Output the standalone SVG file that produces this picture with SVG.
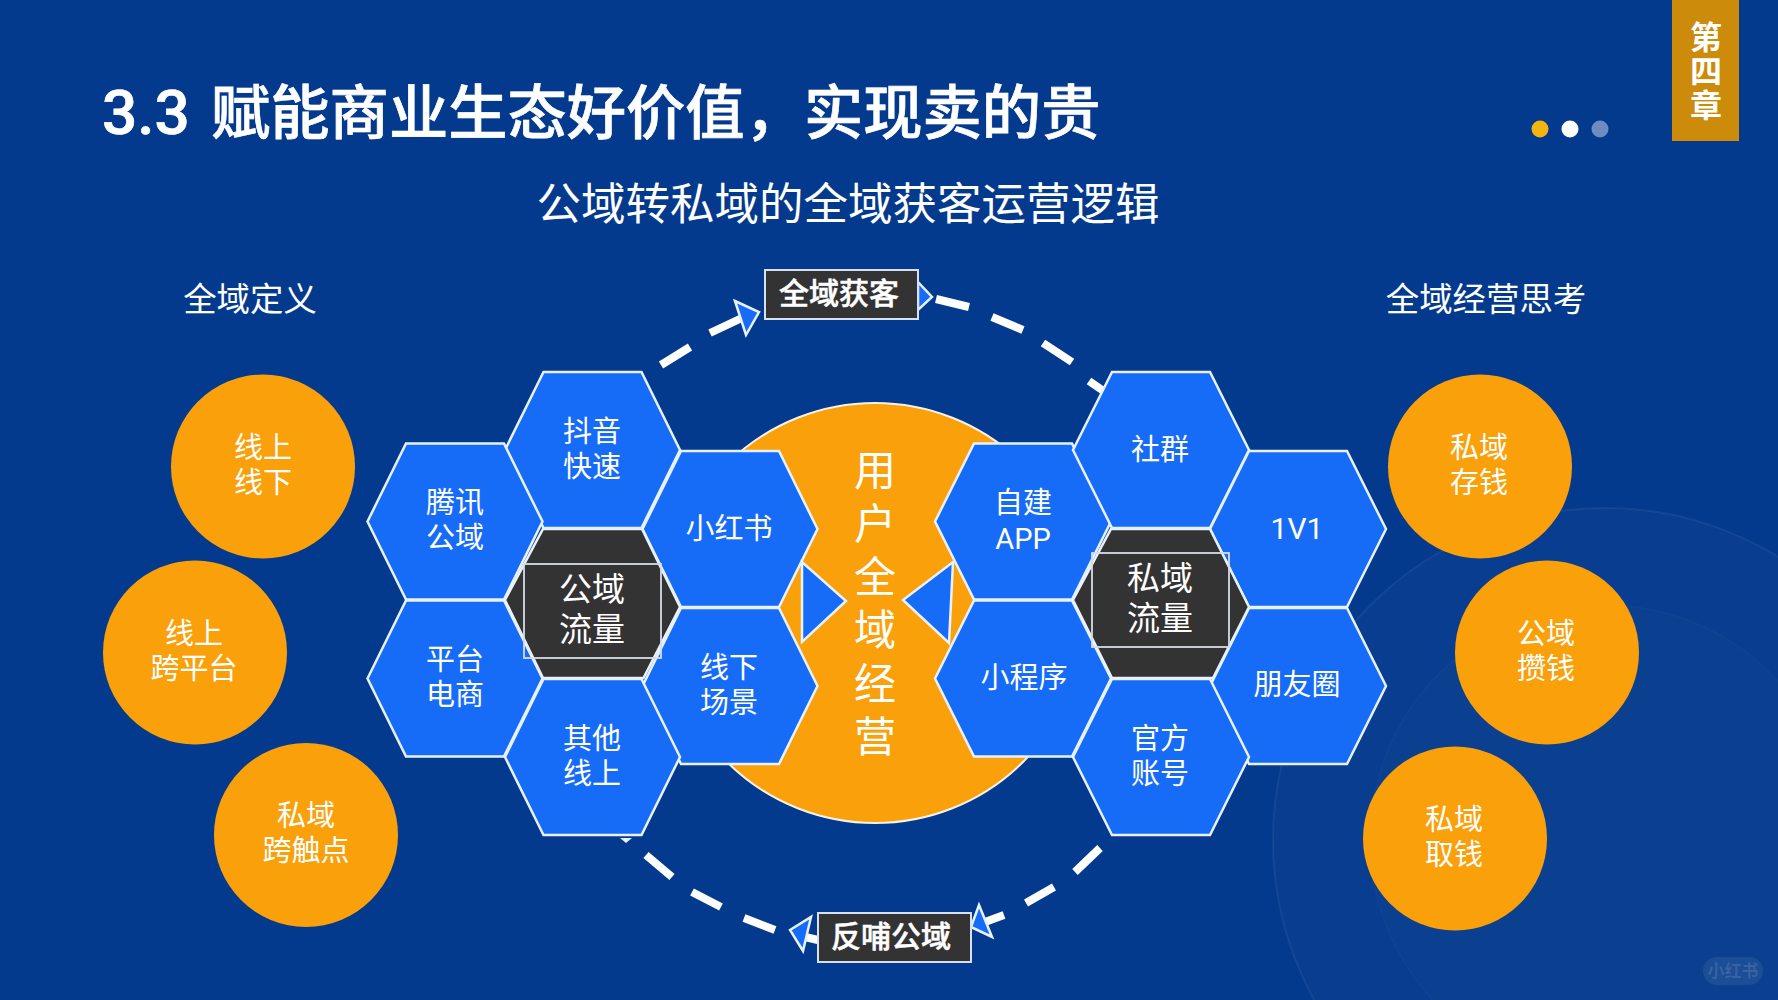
<svg xmlns="http://www.w3.org/2000/svg" width="1778" height="1000" viewBox="0 0 1778 1000">
<style>
text{font-family:"Roboto","Noto Sans CJK SC",sans-serif;fill:#fff;text-anchor:middle}
.t29{font-size:29px}
.t32{font-size:33px}
.lab{font-size:30px;font-weight:500;stroke:#fff;stroke-width:0.5}
.side{font-size:33.4px}
.hex{fill:#176CF7;stroke:#E8F2FF;stroke-width:2.5}
.dark{fill:#333333}
.frame{fill:none;stroke:#D8DCE4;stroke-width:1.8}
.box{fill:#333333;stroke:#D6E2F2;stroke-width:2}
.orb{fill:#F9A00B}
.tip{fill:#176CF7;stroke:#E8F2FF;stroke-width:2.5}
.dash{stroke:#fff;stroke-width:8;fill:none}
</style>
<defs>
<polygon id="hl" points="-87.5,0 -49,-78 49,-78 87.5,0 49,78 -49,78"/>
<polygon id="hr" points="-88,0 -49,-78 49,-78 88,0 49,78 -49,78"/>
</defs>
<rect id="background" width="1778" height="1000" fill="#043A8D"/>
<g id="decor" fill="#fff">
<circle cx="1605" cy="840" r="332" fill-opacity="0.02" stroke="#fff" stroke-opacity="0.06" stroke-width="2"/>
<circle cx="1605" cy="840" r="235" fill-opacity="0.015" stroke="#fff" stroke-opacity="0.025" stroke-width="2"/>
</g>
<g id="title">
<text x="102" y="134" style="font-family:'Roboto','Noto Sans CJK SC',sans-serif;font-weight:500;font-size:59.3px;text-anchor:start;stroke:#fff;stroke-width:0.7"><tspan style="font-size:62px">3.3</tspan><tspan x="211">赋能商业生态好价值，实现卖的贵</tspan></text>
<text x="848" y="220" style="font-size:44.5px">公域转私域的全域获客运营逻辑</text>
<text x="250" y="311" class="side">全域定义</text>
<text x="1486" y="311" class="side">全域经营思考</text>
</g>
<g id="chapter-tab">
<rect x="1672" y="0" width="67" height="141" fill="#CC8B0A"/>
<text x="1703" y="72" style="font-size:32px;font-weight:700;writing-mode:vertical-rl;letter-spacing:2px">第四章</text>
</g>
<g id="page-dots">
<circle cx="1540" cy="129" r="8.5" fill="#F5B50F"/>
<circle cx="1570" cy="129" r="8.5" fill="#fff"/>
<circle cx="1600" cy="129" r="8.5" fill="#6F8CC0"/>
</g>
<g id="core"><circle cx="875" cy="613" r="210" fill="#F9A00B" stroke="#F6F2E8" stroke-width="2"/></g>
<g id="connectors">
<path class="dash" d="M661 365L690 347M710 333L744 317"/>
<path class="dash" d="M936 299L969 307M992 317L1023 330M1043 343L1072 362M1089 381L1105 392"/>
<path class="dash" d="M805 937L818 940M775 930L744 918M721 907L692 892M672 877L646 855"/>
<path class="dash" d="M985 922L1004 915M1026 903L1054 887M1075 872L1100 848"/>
<polygon class="tip" points="735,301 759,312 746,335"/>
<polygon class="tip" points="918,282 932,297 918,310"/>
<polygon class="tip" points="790,930 811,917 803,951"/>
<polygon class="tip" points="979,905 992,937 971,927"/>
<polygon points="620,838 632,838 626,843" fill="#E8F2FF"/>
</g>
<g id="hex-douyin"><use href="#hl" x="592.5" y="450" class="hex"/><text x="592" y="442" class="t29">抖音</text><text x="592" y="477" class="t29">快速</text></g>
<g id="hex-tencent"><use href="#hl" x="455" y="521.5" class="hex"/><text x="455" y="513" class="t29">腾讯</text><text x="455" y="548" class="t29">公域</text></g>
<g id="hex-xiaohongshu"><use href="#hl" x="730" y="529" class="hex"/><text x="729" y="539" class="t29">小红书</text></g>
<g id="hex-platform"><use href="#hl" x="455" y="678.5" class="hex"/><text x="455" y="670" class="t29">平台</text><text x="455" y="705" class="t29">电商</text></g>
<g id="hex-offline"><use href="#hl" x="730" y="686" class="hex"/><text x="729" y="678" class="t29">线下</text><text x="729" y="713" class="t29">场景</text></g>
<g id="hex-other"><use href="#hl" x="592.5" y="757" class="hex"/><text x="592" y="749" class="t29">其他</text><text x="592" y="784" class="t29">线上</text></g>
<g id="hex-app"><use href="#hr" x="1023" y="521.5" class="hex"/><text x="1023" y="513" class="t29">自建</text><text x="1023" y="549" class="t29">APP</text></g>
<g id="hex-community"><use href="#hr" x="1161" y="450" class="hex"/><text x="1160" y="460" class="t29">社群</text></g>
<g id="hex-1v1"><use href="#hr" x="1298" y="529" class="hex"/><text x="1297" y="539" style="font-size:30px">1V1</text></g>
<g id="hex-miniapp"><use href="#hr" x="1023" y="678.5" class="hex"/><text x="1024" y="688" class="t29">小程序</text></g>
<g id="hex-moments"><use href="#hr" x="1298" y="686" class="hex"/><text x="1297" y="695" class="t29">朋友圈</text></g>
<g id="hex-official"><use href="#hr" x="1161" y="757" class="hex"/><text x="1160" y="749" class="t29">官方</text><text x="1160" y="784" class="t29">账号</text></g>
<g id="hex-public"><polygon class="hex dark" points="505,600 543,529 642,529 680,607 643.5,678 543,678"/><rect x="524" y="564" width="137" height="94" class="frame"/><text x="592" y="601" class="t32">公域</text><text x="592" y="641" class="t32">流量</text></g>
<g id="hex-private"><polygon class="hex dark" points="1073,600 1111,529 1210,529 1249,607 1213,678 1112,678"/><rect x="1092" y="553" width="137" height="94" class="frame"/><text x="1160" y="590" class="t32">私域</text><text x="1160" y="630" class="t32">流量</text></g>
<g id="core-label">
<text x="875" y="486" style="font-size:42px">用</text>
<text x="875" y="539" style="font-size:42px">户</text>
<text x="875" y="592" style="font-size:42px">全</text>
<text x="875" y="645" style="font-size:42px">域</text>
<text x="875" y="699" style="font-size:42px">经</text>
<text x="875" y="752" style="font-size:42px">营</text>
</g>
<g id="pointer-left"><polygon class="tip" points="802,562 802,642 846,601"/></g>
<g id="pointer-right"><polygon class="tip" points="953,562 949,643 903,600"/></g>
<g id="label-acquire"><rect x="765" y="270" width="153" height="49" class="box"/><text x="839" y="304" class="lab">全域获客</text></g>
<g id="label-feedback"><rect x="818" y="913" width="153" height="49" class="box"/><text x="891" y="947" class="lab">反哺公域</text></g>
<g id="circle-1"><circle cx="263" cy="466.5" r="92" class="orb"/><text x="263" y="458" class="t29">线上</text><text x="263" y="493" class="t29">线下</text></g>
<g id="circle-2"><circle cx="195" cy="652.5" r="92" class="orb"/><text x="194" y="644" class="t29">线上</text><text x="194" y="679" class="t29">跨平台</text></g>
<g id="circle-3"><circle cx="306" cy="835" r="92" class="orb"/><text x="306" y="826" class="t29">私域</text><text x="306" y="861" class="t29">跨触点</text></g>
<g id="circle-4"><circle cx="1480" cy="466.5" r="92" class="orb"/><text x="1479" y="458" class="t29">私域</text><text x="1479" y="493" class="t29">存钱</text></g>
<g id="circle-5"><circle cx="1547" cy="652.5" r="92" class="orb"/><text x="1546" y="644" class="t29">公域</text><text x="1546" y="679" class="t29">攒钱</text></g>
<g id="circle-6"><circle cx="1455" cy="838.5" r="92" class="orb"/><text x="1454" y="830" class="t29">私域</text><text x="1454" y="865" class="t29">取钱</text></g>
<g id="watermark"><rect x="1703" y="957" width="60" height="28" rx="14" fill="#fff" fill-opacity="0.07"/><text x="1733" y="977" style="font-size:17px;font-weight:700;fill:#fff;fill-opacity:0.12">小红书</text></g>
</svg>
